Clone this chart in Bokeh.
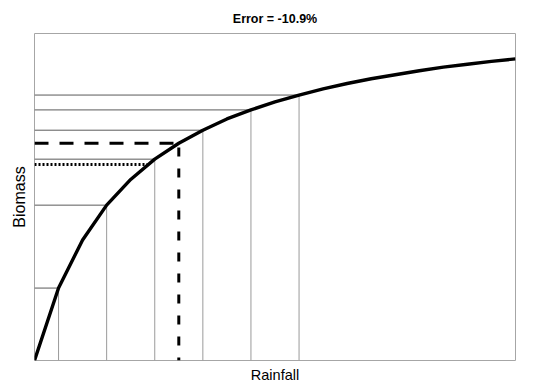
from bokeh.plotting import figure
from bokeh.models import Range1d, ColumnDataSource
from bokeh.embed import file_html
from bokeh.resources import INLINE

# ---- data ----
rainfall = list(range(0, 21))
biomass = [0.0, 20.0, 33.3, 42.9, 50.0, 55.6, 60.0, 63.6, 66.7, 69.2, 71.4,
           73.3, 75.0, 76.5, 77.8, 78.9, 80.0, 81.0, 81.8, 82.6, 83.3]
sample_rain = [1, 3, 5, 7, 9, 11]
sample_biomass = [20.0, 42.9, 55.6, 63.6, 69.2, 73.3]
mean_rain = 6
biomass_at_mean_rain = 60.0
mean_biomass = 54.1
rain_at_mean_biomass = 4.7
title_text = "Error = -10.9%"
x_label = "Rainfall"
y_label = "Biomass"

FONT = "Liberation Sans"

p = figure(width=539, height=389, output_backend="svg", toolbar_location=None,
           x_range=Range1d(0, 20), y_range=Range1d(0, 90.3),
           min_border_left=34, min_border_right=24, min_border_top=33,
           min_border_bottom=29, background_fill_color="white",
           border_fill_color="white")

p.title.text = title_text
p.title.align = "center"
p.title.text_font = FONT
p.title.text_font_size = "12.5px"
p.title.text_font_style = "bold"
p.title.text_color = "black"
p.title.standoff = 15

for ax, lab in ((p.xaxis, x_label), (p.yaxis, y_label)):
    ax.ticker = []
    ax.major_tick_line_color = None
    ax.minor_tick_line_color = None
    ax.axis_line_color = None
    ax.major_label_text_font_size = "0px"
    ax.axis_label = lab
    ax.axis_label_text_font = FONT
    ax.axis_label_text_font_style = "normal"
    ax.axis_label_text_color = "black"
p.xaxis.axis_label_text_font_size = "14.5px"
p.yaxis.axis_label_text_font_size = "16px"
p.xaxis.axis_label_standoff = 6
p.yaxis.axis_label_standoff = 7

p.grid.visible = False
p.outline_line_color = "#a6a6a6"
p.outline_line_width = 1

zeros = [0.0] * len(sample_rain)
src = ColumnDataSource(dict(x=sample_rain, y=sample_biomass, z=zeros))
# vertical drop lines
p.segment(x0="x", y0="z", x1="x", y1="y", source=src, line_color="#9a9a9a", line_width=1)
# horizontal lines
p.segment(x0="z", y0="y", x1="x", y1="y", source=src, line_color="#5a5a5a", line_width=1)

# mean biomass (dotted)
p.line([0, rain_at_mean_biomass], [mean_biomass, mean_biomass], line_color="black",
       line_width=3, line_dash="2 2")
# biomass at mean rainfall (dashed)
p.line([0, mean_rain], [biomass_at_mean_rain, biomass_at_mean_rain], line_color="black",
       line_width=3, line_dash="14 11")
p.line([mean_rain, mean_rain], [0, biomass_at_mean_rain], line_color="black",
       line_width=3, line_dash="9 12", line_dash_offset=6)

# curve
p.line(rainfall, biomass, line_color="black", line_width=3.4)

open("out.html", "w").write(file_html(p, INLINE))
